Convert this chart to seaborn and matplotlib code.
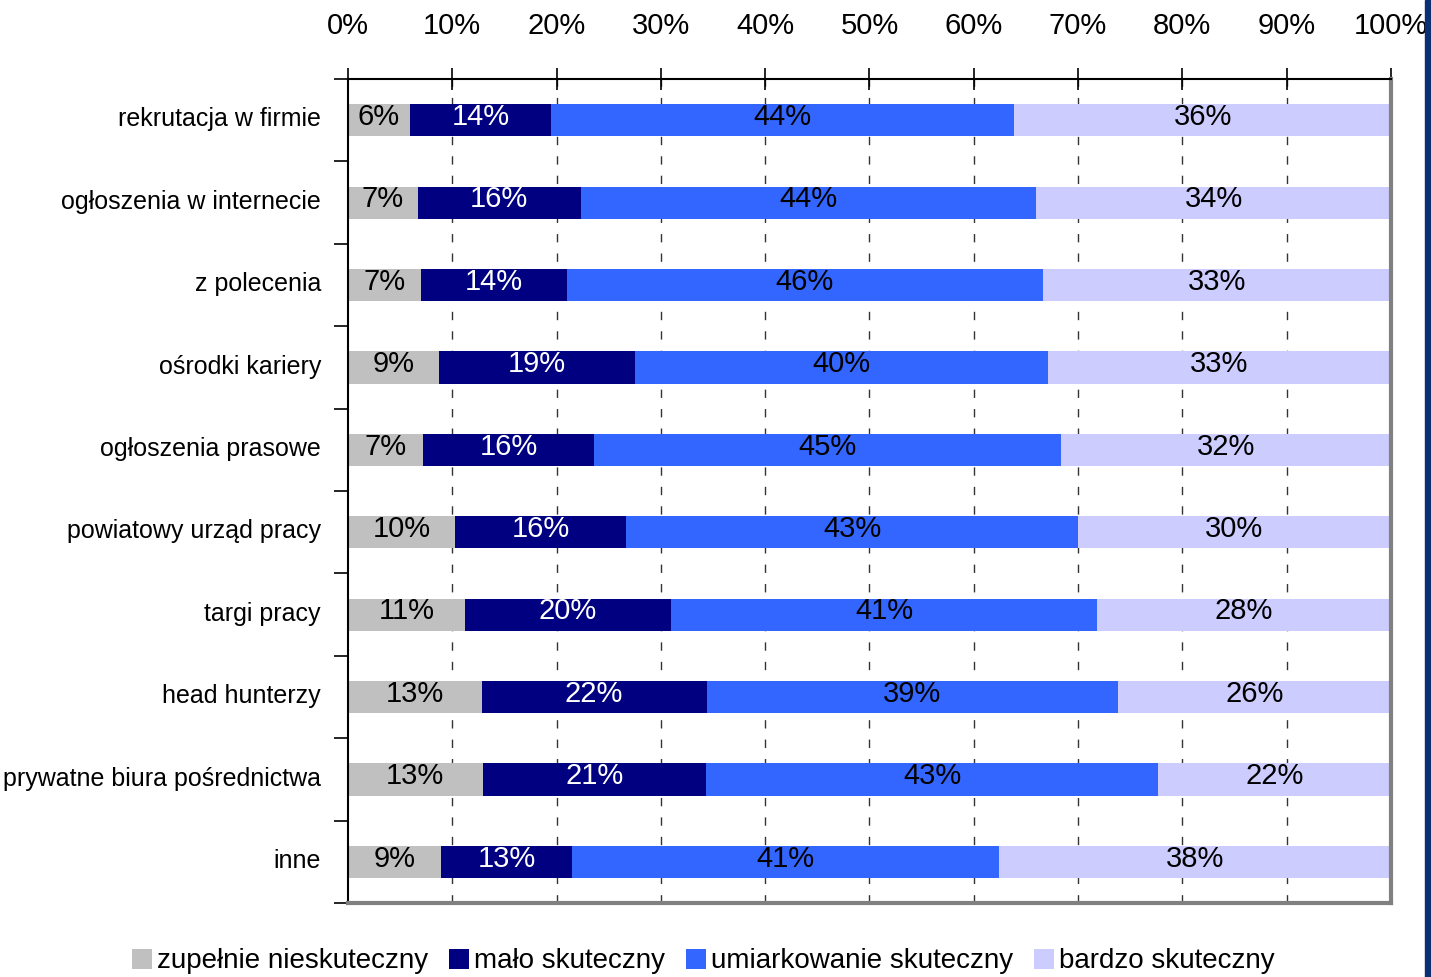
import numpy as np
import pandas as pd
import seaborn as sns
from matplotlib import pyplot as plt
from matplotlib.patches import Rectangle
from matplotlib.lines import Line2D

# data (share of answers, %)
categories = ["rekrutacja w firmie", "ogłoszenia w internecie", "z polecenia", "ośrodki kariery",
              "ogłoszenia prasowe", "powiatowy urząd pracy", "targi pracy", "head hunterzy",
              "prywatne biura pośrednictwa", "inne"]
series = ["zupełnie nieskuteczny", "mało skuteczny", "umiarkowanie skuteczny", "bardzo skuteczny"]
zupelnie = [5.9, 6.7, 7.0, 8.7, 7.2, 10.3, 11.2, 12.8, 12.9, 8.9]
malo = [13.6, 15.6, 14.0, 18.8, 16.4, 16.4, 19.8, 21.6, 21.4, 12.6]
umiarkowanie = [44.4, 43.7, 45.6, 39.6, 44.8, 43.3, 40.8, 39.4, 43.4, 40.9]
bardzo = [36.1, 34.0, 33.4, 32.9, 31.6, 30.0, 28.2, 26.2, 22.3, 37.6]
colors = ["#C0C0C0", "#000080", "#3366FF", "#CCCCFF"]
text_colors = ["black", "white", "black", "black"]

sns.set_style("white")
plt.rcParams['font.family'] = ['Liberation Sans', 'DejaVu Sans']
plt.rcParams['text.color'] = 'black'
plt.rcParams['xtick.color'] = 'black'
plt.rcParams['ytick.color'] = 'black'

df = pd.DataFrame({"cat": categories, series[0]: zupelnie, series[1]: malo,
                   series[2]: umiarkowanie, series[3]: bardzo})
cum = df[series].cumsum(axis=1)

fig = plt.figure(figsize=(14.31, 9.77), dpi=100)
ax = fig.add_axes([0.2432, 0.0757, 0.7288, 0.8434])

# draw stacked bars from the longest cumulative series down
for i in range(len(series) - 1, -1, -1):
    sns.barplot(x=cum[series[i]], y=df["cat"], color=colors[i], orient="h",
                width=0.39, ax=ax, saturation=1, linewidth=0)

# value labels
for i, s in enumerate(series):
    left = cum[s] - df[s]
    for j, v in enumerate(df[s]):
        ax.text(left[j] + v / 2, j - 0.04, f"{round(v):d}%", ha="center", va="center",
                fontsize=21, color=text_colors[i])

ax.set_xlim(0, 100)
ax.set_ylim(len(categories) - 0.5, -0.5)
ax.set_xlabel("")
ax.set_ylabel("")
ax.xaxis.tick_top()
ax.set_xticks(np.arange(0, 101, 10))
ax.set_xticklabels([f"{t}%" for t in range(0, 101, 10)], fontsize=21)
ax.tick_params(axis="x", top=True, bottom=False, direction="inout", length=16, width=1.2,
               pad=20, colors="black")
ax.set_yticks(np.arange(len(categories)) - 0.04)
ax.set_yticklabels(categories, fontsize=18, color="black")
ax.set_yticks(np.arange(-0.5, len(categories), 1), minor=True)
ax.tick_params(axis="y", which="major", left=False, pad=16)
ax.tick_params(axis="y", which="minor", left=True, direction="out", length=10, width=1.2)

for x in range(10, 100, 10):
    ax.axvline(x, color="#333333", lw=1, ls=(0, (6, 8)), zorder=0)

ax.spines["left"].set_color("black")
ax.spines["left"].set_linewidth(1.5)
ax.spines["top"].set_color("black")
ax.spines["top"].set_linewidth(1.5)
ax.spines["right"].set_color("#808080")
ax.spines["right"].set_linewidth(3)
ax.spines["bottom"].set_color("#808080")
ax.spines["bottom"].set_linewidth(3)
for sp in ax.spines.values():
    sp.set_visible(True)

handles = [Line2D([], [], marker="s", ls="", markersize=15, markerfacecolor=c,
                  markeredgewidth=0) for c in colors]
fig.legend(handles, series, loc="center", bbox_to_anchor=(0.49, 0.016), ncol=4, frameon=False,
           fontsize=20, handletextpad=0.05, columnspacing=0.6, handlelength=1.0)

# dark stripe on the right edge of the slide
fig.patches.append(Rectangle((0.9958, 0), 0.0042, 1, transform=fig.transFigure,
                             color="#0B2F72", zorder=5))

fig.savefig("out.png", dpi=100)
